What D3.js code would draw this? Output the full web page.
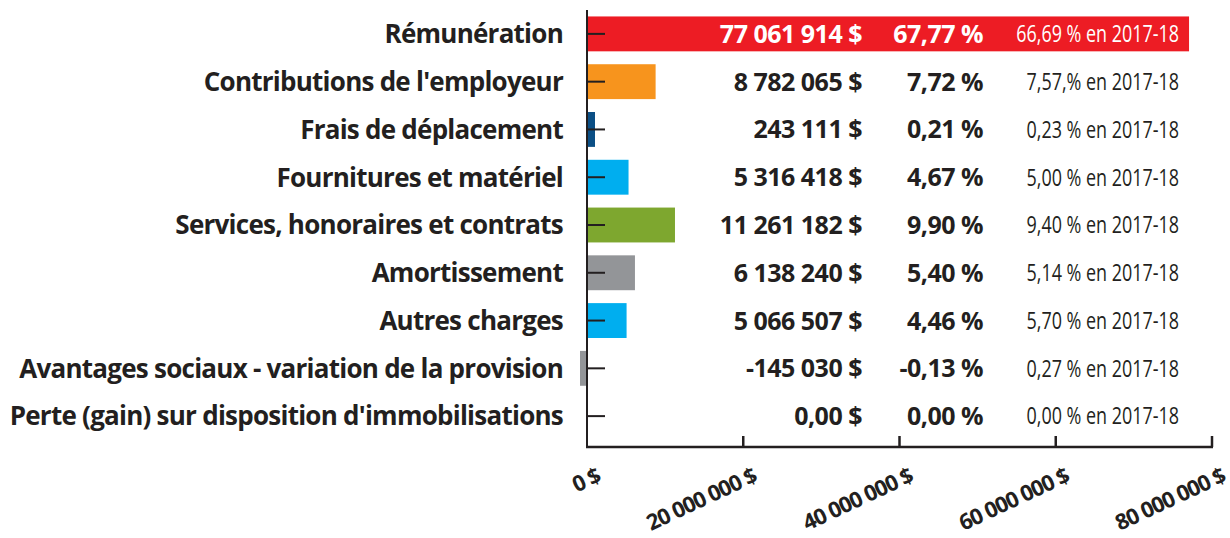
<!DOCTYPE html>
<html>
<head>
<meta charset="utf-8">
<script src="https://cdn.jsdelivr.net/npm/d3@7"></script>
<style>
  body { margin: 0; background: #fff; }
  svg { display: block; font-family: "Open Sans", "Noto Sans", sans-serif; }
</style>
</head>
<body>
<div id="chart"></div>
<script>
const categories = [
    "Rémunération",
    "Contributions de l'employeur",
    "Frais de déplacement",
    "Fournitures et matériel",
    "Services, honoraires et contrats",
    "Amortissement",
    "Autres charges",
    "Avantages sociaux - variation de la provision",
    "Perte (gain) sur disposition d'immobilisations"
];
const amounts = [77061914, 8782065, 243111, 5316418, 11261182, 6138240, 5066507, -145030, 0];
const amountLabels = ["77 061 914 $", "8 782 065 $", "243 111 $", "5 316 418 $", "11 261 182 $",
    "6 138 240 $", "5 066 507 $", "-145 030 $", "0,00 $"];
const shareLabels = ["67,77 %", "7,72 %", "0,21 %", "4,67 %", "9,90 %", "5,40 %", "4,46 %", "-0,13 %", "0,00 %"];
const priorLabels = ["66,69 % en 2017-18", "7,57,% en 2017-18", "0,23 % en 2017-18", "5,00 % en 2017-18",
    "9,40 % en 2017-18", "5,14 % en 2017-18", "5,70 % en 2017-18", "0,27 % en 2017-18", "0,00 % en 2017-18"];
const barColors = ["#ed1c24", "#f7941d", "#0b4f85", "#00aeef", "#7ea72f", "#939598", "#00aeef", "#939598", "#939598"];
const xTicks = [0, 20000000, 40000000, 60000000, 80000000];
const xTickLabels = ["0 $", "20 000 000 $", "40 000 000 $", "60 000 000 $", "80 000 000 $"];

const width = 1230, height = 538;
const ink = "#231f20";

const svg = d3.select("#chart").append("svg")
    .attr("width", width).attr("height", height);

const x = d3.scaleLinear().domain([0, 80000000]).range([587, 1212]);
const y = d3.scaleBand().domain(categories).range([10, 440]).paddingInner(0.27).paddingOuter(0.135);
const axisY = 447;
const mid = d => y(d) + y.bandwidth() / 2;

// bars (tiny non-zero values get a minimum visible width, like the original)
const minW = 8;
svg.selectAll("rect.bar")
    .data(categories)
    .join("rect")
    .attr("class", "bar")
    .attr("x", (d, i) => {
        const v = amounts[i];
        if (v >= 0) return x(0);
        return Math.min(x(v), x(0) - 7);
    })
    .attr("y", d => y(d))
    .attr("height", y.bandwidth())
    .attr("width", (d, i) => {
        const v = amounts[i];
        if (v === 0) return 0;
        const w = Math.abs(x(v) - x(0));
        return v > 0 ? Math.max(w, minW) : Math.max(w, 7);
    })
    .attr("fill", (d, i) => barColors[i]);

// y axis line and inner ticks
svg.append("line")
    .attr("x1", x(0)).attr("x2", x(0))
    .attr("y1", 10).attr("y2", axisY)
    .attr("stroke", ink).attr("stroke-width", 2);

svg.selectAll("line.ytick")
    .data(categories)
    .join("line")
    .attr("class", "ytick")
    .attr("x1", x(0)).attr("x2", x(0) + 18)
    .attr("y1", mid).attr("y2", mid)
    .attr("stroke", ink).attr("stroke-width", 2);

// x axis
svg.append("line")
    .attr("x1", x(0) - 1).attr("x2", x(80000000) + 1)
    .attr("y1", axisY).attr("y2", axisY)
    .attr("stroke", ink).attr("stroke-width", 2.5);

svg.selectAll("line.xtick")
    .data(xTicks.slice(1))
    .join("line")
    .attr("class", "xtick")
    .attr("x1", d => x(d)).attr("x2", d => x(d))
    .attr("y1", axisY - 11).attr("y2", axisY)
    .attr("stroke", ink).attr("stroke-width", 2.5);

svg.selectAll("text.xlabel")
    .data(xTicks)
    .join("text")
    .attr("class", "xlabel")
    .attr("transform", d => `translate(${x(d) + 15},${axisY + 34}) rotate(-25)`)
    .attr("text-anchor", "end")
    .attr("font-size", 22)
    .attr("font-weight", 700)
    .attr("letter-spacing", -1)
    .attr("fill", ink)
    .text((d, i) => xTickLabels[i]);

// category labels
svg.selectAll("text.cat")
    .data(categories)
    .join("text")
    .attr("class", "cat")
    .attr("x", 563)
    .attr("y", mid)
    .attr("dy", "0.36em")
    .attr("text-anchor", "end")
    .attr("font-size", 26)
    .attr("font-weight", 700)
    .attr("letter-spacing", -0.75)
    .attr("fill", ink)
    .text(d => d);

// value columns
svg.selectAll("text.amt")
    .data(categories)
    .join("text")
    .attr("class", "amt")
    .attr("x", 862)
    .attr("y", mid)
    .attr("dy", "0.36em")
    .attr("text-anchor", "end")
    .attr("font-size", 25)
    .attr("font-weight", 700)
    .attr("letter-spacing", -0.5)
    .attr("fill", (d, i) => i === 0 ? "#fff" : ink)
    .text((d, i) => amountLabels[i]);

svg.selectAll("text.pct")
    .data(categories)
    .join("text")
    .attr("class", "pct")
    .attr("x", 983)
    .attr("y", mid)
    .attr("dy", "0.36em")
    .attr("text-anchor", "end")
    .attr("font-size", 25)
    .attr("font-weight", 700)
    .attr("letter-spacing", -0.5)
    .attr("fill", (d, i) => i === 0 ? "#fff" : ink)
    .text((d, i) => shareLabels[i]);

// previous-year share, condensed
svg.selectAll("text.prior")
    .data(categories)
    .join("text")
    .attr("class", "prior")
    .attr("transform", d => `translate(1179,${mid(d)}) scale(0.78,1)`)
    .attr("dy", "0.36em")
    .attr("text-anchor", "end")
    .attr("font-size", 23)
    .attr("font-weight", 400)
    .attr("fill", (d, i) => i === 0 ? "#fff" : ink)
    .text((d, i) => priorLabels[i]);
</script>
</body>
</html>
